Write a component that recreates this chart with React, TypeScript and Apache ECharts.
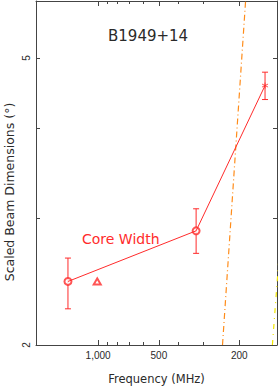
import React, { useEffect, useRef } from 'react';
import * as echarts from 'echarts';

const xMajorTicks = [1000, 500, 200];
const xMinorTicks = [900, 800, 700, 600, 400, 300];
const yTicks = [2, 3, 4, 5];
const yLabels = [2, 5];
const coreWidthLine = [[1410, 2.45], [327, 2.88], [149, 4.58]];
const circlePoints = [[1410, 2.45], [327, 2.88]];
const trianglePoints = [[1010, 2.45]];
const starPoints = [[149, 4.58]];
const errorBars = [[1410, 2.245, 2.64], [327, 2.68, 3.09], [149, 4.38, 4.78]];
const orangeLine = [[242, 2], [186, 6]];
const yellowLine = [[137, 2], [126, 2.73]];

const RED = '#ff2b2b';
const AX = '#444';
const TXT = '#2a2a2a';

function xAxisDef(position: 'top' | 'bottom', ticks: number[], len: number, main: boolean, withLabel: boolean) {
  return {
    type: 'log',
    inverse: true,
    min: 130,
    max: 2030,
    position,
    axisLine: { show: main, lineStyle: { color: AX, width: 1 } },
    axisTick: { show: true, inside: true, length: len, customValues: ticks, lineStyle: { color: AX, width: 1 } },
    axisLabel: withLabel
      ? { show: true, customValues: ticks, margin: 5, fontSize: 10, fontFamily: 'Liberation Sans', color: TXT }
      : { show: false },
    splitLine: { show: false },
    minorTick: { show: false },
    name: withLabel ? 'Frequency (MHz)' : '',
    nameLocation: 'middle',
    nameGap: 28,
    nameTextStyle: { fontSize: 11.5, fontFamily: 'DejaVu Sans', color: TXT },
  };
}

export default function App() {
  const ref = useRef<HTMLDivElement>(null);
  useEffect(() => {
    if (!ref.current) return;
    const chart = echarts.init(ref.current, undefined, { renderer: 'svg' });
    chart.setOption({
      animation: false,
      backgroundColor: '#fff',
      grid: { left: 36, right: 1, top: 1, bottom: 40, containLabel: false },
      xAxis: [
        xAxisDef('bottom', xMajorTicks, 5, true, true),
        xAxisDef('bottom', xMinorTicks, 3, false, false),
        xAxisDef('top', xMajorTicks, 5, true, false),
        xAxisDef('top', xMinorTicks, 3, false, false),
      ],
      yAxis: [
        {
          type: 'log', min: 2, max: 6, position: 'left',
          axisLine: { show: true, lineStyle: { color: AX, width: 1 } },
          axisTick: { show: true, inside: true, length: 4, customValues: yTicks, lineStyle: { color: AX } },
          axisLabel: { show: true, customValues: yLabels, rotate: 90, margin: 5, fontSize: 10, fontFamily: 'Liberation Sans', color: TXT },
          splitLine: { show: false },
        },
        {
          type: 'log', min: 2, max: 6, position: 'right',
          axisLine: { show: true, lineStyle: { color: AX, width: 1 } },
          axisTick: { show: true, inside: true, length: 4, customValues: yTicks, lineStyle: { color: AX } },
          axisLabel: { show: false },
          splitLine: { show: false },
        },
      ],
      graphic: [
        { type: 'text', x: 108, y: 36, style: { text: 'B1949+14', fontSize: 15, fontFamily: 'DejaVu Sans', fill: TXT, textVerticalAlign: 'middle' } },
        { type: 'text', x: 82, y: 239, style: { text: 'Core Width', fontSize: 14, fontFamily: 'DejaVu Sans', fill: RED, textVerticalAlign: 'middle' } },
        { type: 'text', x: 9, y: 192, rotation: Math.PI / 2, style: { text: 'Scaled Beam Dimensions (°)', fontSize: 12.5, fontFamily: 'DejaVu Sans', fill: TXT, textAlign: 'center', textVerticalAlign: 'middle' } },
      ],
      series: [
        {
          type: 'line', data: orangeLine, symbol: 'none', clip: true,
          lineStyle: { color: '#ff8c1a', width: 1.2, type: [6, 3, 1, 3] },
        },
        {
          type: 'line', data: yellowLine, symbol: 'none', clip: true,
          lineStyle: { color: '#f2e600', width: 1.2, type: [5, 5, 1, 5] },
        },
        {
          type: 'line', data: coreWidthLine, symbol: 'none', clip: true,
          lineStyle: { color: RED, width: 1 },
        },
        {
          type: 'custom', data: errorBars, encode: { x: 0, y: [1, 2] }, clip: true,
          renderItem: (params: any, api: any) => {
            const x = api.value(0);
            const p1 = api.coord([x, api.value(1)]);
            const p2 = api.coord([x, api.value(2)]);
            const w = 3;
            const st = { stroke: RED, lineWidth: 1 };
            return {
              type: 'group',
              children: [
                { type: 'line', shape: { x1: p1[0], y1: p1[1], x2: p2[0], y2: p2[1] }, style: st },
                { type: 'line', shape: { x1: p1[0] - w, y1: p1[1], x2: p1[0] + w, y2: p1[1] }, style: st },
                { type: 'line', shape: { x1: p2[0] - w, y1: p2[1], x2: p2[0] + w, y2: p2[1] }, style: st },
              ],
            };
          },
        },
        {
          type: 'scatter', data: circlePoints, symbol: 'emptyCircle', symbolSize: 7,
          itemStyle: { color: RED, borderColor: RED, borderWidth: 1 },
        },
        {
          type: 'scatter', data: trianglePoints, symbol: 'emptyTriangle', symbolSize: [7, 6],
          itemStyle: { color: RED, borderColor: RED, borderWidth: 1 },
        },
        {
          type: 'scatter', data: starPoints,
          symbol: 'path://M5 0 L5 10 M0.7 2.5 L9.3 7.5 M0.7 7.5 L9.3 2.5',
          symbolSize: 6,
          itemStyle: { color: 'none', borderColor: RED, borderWidth: 1 },
        },
      ],
    });
    return () => chart.dispose();
  }, []);
  return <div ref={ref} style={{ position: 'fixed', left: 0, top: 0, width: 278, height: 390 }} />;
}
